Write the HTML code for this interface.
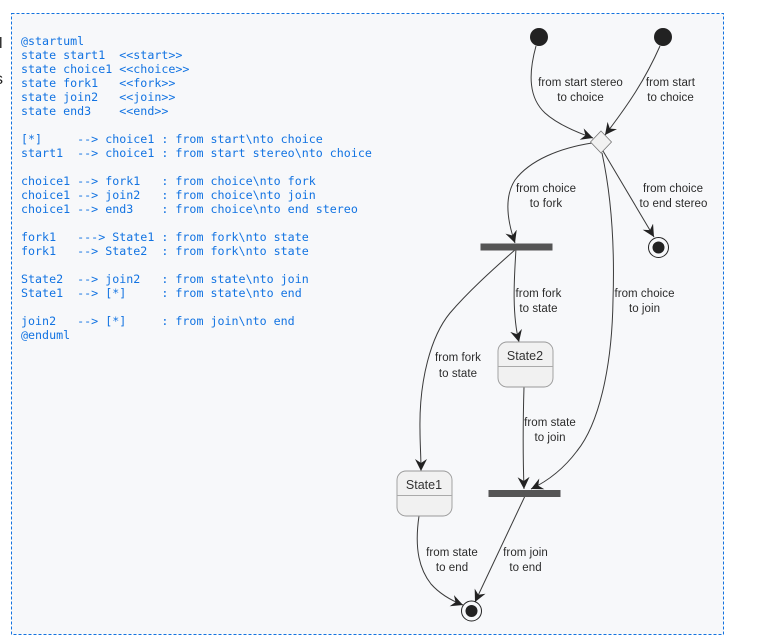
<!DOCTYPE html>
<html>
<head>
<meta charset="utf-8">
<style>
html,body{margin:0;padding:0;background:#fff;width:759px;height:640px;overflow:hidden}
svg{display:block;position:absolute;left:0;top:0}
.code text{font-family:"DejaVu Sans Mono","Liberation Mono",monospace;font-size:11.66px;fill:#1273e2}
.l{font-family:"Liberation Sans",sans-serif;font-size:11.5px;letter-spacing:.06px;fill:#2b2b2b;text-anchor:middle}
.s{font-family:"Liberation Sans",sans-serif;font-size:12.5px;fill:#333;text-anchor:middle}
.e{fill:none;stroke:#3a3a3a;stroke-width:1}
</style>
</head>
<body>
<svg width="759" height="640" viewBox="0 0 759 640" xmlns="http://www.w3.org/2000/svg">
<defs>
<marker id="a" markerUnits="userSpaceOnUse" markerWidth="16" markerHeight="14" refX="12" refY="6" orient="auto">
<path d="M0,0 L12,6 L0,12 L4,6 Z" fill="#222"/>
</marker>
</defs>
<rect x="11.5" y="13.5" width="712" height="621" fill="#f7f8fa" stroke="#1272e0" stroke-width="1" stroke-dasharray="3 2"/>
<rect x="0" y="37" width="1.5" height="11" fill="#333"/>
<text x="-5" y="84" style="font-family:'Liberation Sans',sans-serif;font-size:16px;fill:#222">s</text>
<g class="code">
<text x="21" y="45">@startuml</text>
<text x="21" y="59">state start1&#160;&#160;&lt;&lt;start&gt;&gt;</text>
<text x="21" y="73">state choice1 &lt;&lt;choice&gt;&gt;</text>
<text x="21" y="87">state fork1&#160;&#160;&#160;&lt;&lt;fork&gt;&gt;</text>
<text x="21" y="101">state join2&#160;&#160;&#160;&lt;&lt;join&gt;&gt;</text>
<text x="21" y="115">state end3&#160;&#160;&#160;&#160;&lt;&lt;end&gt;&gt;</text>
<text x="21" y="143">[*]&#160;&#160;&#160;&#160;&#160;--&gt; choice1 : from start\nto choice</text>
<text x="21" y="157">start1&#160;&#160;--&gt; choice1 : from start stereo\nto choice</text>
<text x="21" y="185">choice1 --&gt; fork1&#160;&#160;&#160;: from choice\nto fork</text>
<text x="21" y="199">choice1 --&gt; join2&#160;&#160;&#160;: from choice\nto join</text>
<text x="21" y="213">choice1 --&gt; end3&#160;&#160;&#160;&#160;: from choice\nto end stereo</text>
<text x="21" y="241">fork1&#160;&#160;&#160;---&gt; State1 : from fork\nto state</text>
<text x="21" y="255">fork1&#160;&#160;&#160;--&gt; State2&#160;&#160;: from fork\nto state</text>
<text x="21" y="283">State2&#160;&#160;--&gt; join2&#160;&#160;&#160;: from state\nto join</text>
<text x="21" y="297">State1&#160;&#160;--&gt; [*]&#160;&#160;&#160;&#160;&#160;: from state\nto end</text>
<text x="21" y="325">join2&#160;&#160;&#160;--&gt; [*]&#160;&#160;&#160;&#160;&#160;: from join\nto end</text>
<text x="21" y="339">@enduml</text>
</g>

<!-- edges -->
<g class="e">
<path d="M536,46 C528,75 529,98 545,113 C556,123 573,131 593,138" marker-end="url(#a)"/>
<path d="M660,46 C645,80 628,105 605,135" marker-end="url(#a)"/>
<path d="M592,143 C560,148 530,160 515,180 C504,197 507,220 515,243" marker-end="url(#a)"/>
<path d="M603,151 L654,237" marker-end="url(#a)"/>
<path d="M602,153 C610,190 615,240 613,300 C612,370 598,425 577,451 C565,467 550,480 531,489" marker-end="url(#a)"/>
<path d="M516,248 C515,270 511,310 519,342" marker-end="url(#a)"/>
<path d="M516,249 C490,272 468,292 450,313 C431,336 419,380 420,430 C420,445 421,455 421,471" marker-end="url(#a)"/>
<path d="M524,387 C523,420 523,460 524,489" marker-end="url(#a)"/>
<path d="M525,496 L475,602" marker-end="url(#a)"/>
<path d="M419,516 C414,550 420,570 431,584 C439,593 450,600 463,605" marker-end="url(#a)"/>
</g>

<!-- nodes -->
<circle cx="539" cy="37" r="9" fill="#222"/>
<circle cx="663" cy="37" r="9" fill="#222"/>
<polygon points="601,131 611.5,142 601,153 590.5,142" fill="#f1f1f1" stroke="#777" stroke-width="0.8"/>
<rect x="480.5" y="243.5" width="72" height="7" fill="#555"/>
<rect x="488.5" y="490" width="72" height="7" fill="#555"/>
<circle cx="658.5" cy="247.5" r="10" fill="none" stroke="#222" stroke-width="1"/>
<circle cx="658.5" cy="247.5" r="6" fill="#222"/>
<circle cx="471.5" cy="611" r="10" fill="none" stroke="#222" stroke-width="1"/>
<circle cx="471.5" cy="611" r="6" fill="#222"/>

<rect x="498" y="342" width="55" height="45" rx="9" ry="9" fill="#f1f1f1" stroke="#999" stroke-width="0.9"/>
<line x1="498" y1="366.5" x2="553" y2="366.5" stroke="#aaa" stroke-width="0.9"/>
<text class="s" x="525" y="360">State2</text>
<rect x="397" y="471" width="55" height="45" rx="9" ry="9" fill="#f1f1f1" stroke="#999" stroke-width="0.9"/>
<line x1="397" y1="495.5" x2="452" y2="495.5" stroke="#aaa" stroke-width="0.9"/>
<text class="s" x="424" y="489">State1</text>

<!-- labels -->
<g class="l">
<text x="580.5" y="86">from start stereo</text>
<text x="580.5" y="101">to choice</text>
<text x="670.5" y="86">from start</text>
<text x="670.5" y="101">to choice</text>
<text x="546" y="192">from choice</text>
<text x="546" y="207">to fork</text>
<text x="673" y="192">from choice</text>
<text x="673.5" y="207">to end stereo</text>
<text x="538.5" y="297">from fork</text>
<text x="538.5" y="312">to state</text>
<text x="644.5" y="297">from choice</text>
<text x="644.5" y="312">to join</text>
<text x="458" y="361">from fork</text>
<text x="458" y="377">to state</text>
<text x="550" y="426">from state</text>
<text x="550" y="441">to join</text>
<text x="452" y="556">from state</text>
<text x="452" y="571">to end</text>
<text x="525.5" y="556">from join</text>
<text x="525.5" y="571">to end</text>
</g>
</svg>
</body>
</html>
